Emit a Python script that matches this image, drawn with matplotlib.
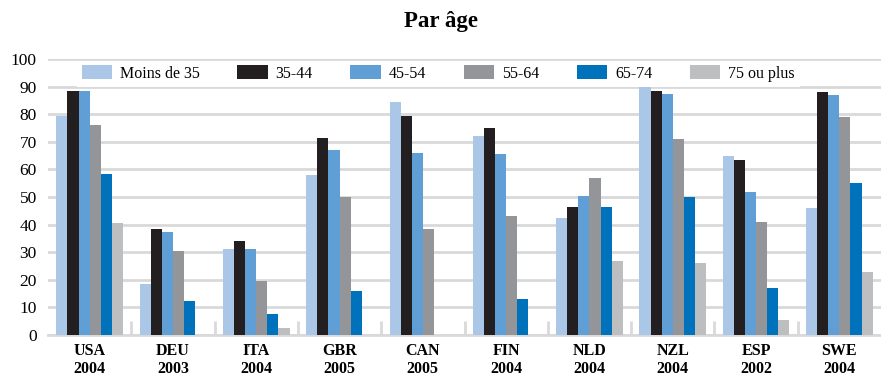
import numpy as np
import matplotlib.pyplot as plt

# Pays / année de l'enquête
pays = ['USA\n2004', 'DEU\n2003', 'ITA\n2004', 'GBR\n2005', 'CAN\n2005',
        'FIN\n2004', 'NLD\n2004', 'NZL\n2004', 'ESP\n2002', 'SWE\n2004']
tranches = ['Moins de 35', '35-44', '45-54', '55-64', '65-74', '75 ou plus']

moins_35 = [79.5, 18.5, 31, 58, 84.5, 72, 42.5, 90.5, 65, 46]
age_35_44 = [88.5, 38.5, 34, 71.5, 79.5, 75, 46.5, 88.5, 63.5, 88]
age_45_54 = [88.5, 37.5, 31, 67, 66, 65.5, 50.5, 87.5, 52, 87]
age_55_64 = [76, 30.5, 19.5, 50, 38.5, 43, 57, 71, 41, 79]
age_65_74 = [58.5, 12.5, 7.5, 16, 0, 13, 46.5, 50, 17, 55]
plus_75 = [40.5, 0, 2.5, 0, 0, 0, 27, 26, 5.5, 23]

series = [moins_35, age_35_44, age_45_54, age_55_64, age_65_74, plus_75]
couleurs = ['#abc7e8', '#231f20', '#5f9fd6', '#939598', '#0072bc', '#bcbec0']

plt.rcParams['font.family'] = ['Liberation Serif', 'DejaVu Serif']

fig = plt.figure(figsize=(8.81, 3.76), dpi=100)
ax = fig.add_axes([0.0545, 0.109, 0.9455, 0.734])

x = np.arange(len(pays))
largeur = 0.8 / len(series)
for i, (vals, coul, nom) in enumerate(zip(series, couleurs, tranches)):
    ax.bar(x - 0.4 + largeur * (i + 0.5), vals, largeur, color=coul,
           label=nom, zorder=3)

ax.set_xlim(-0.5, len(pays) - 0.5)
ax.set_ylim(0, 100)
ax.set_yticks(np.arange(0, 101, 10))
ax.grid(axis='y', color='#d9d9d9', linewidth=2, zorder=0)
ax.set_axisbelow(True)

# étiquettes des pays centrées, petits traits entre les groupes
ax.set_xticks(x)
ax.set_xticklabels(pays, fontweight='bold', fontsize=11.5, linespacing=1.15)
ax.tick_params(axis='x', length=0, pad=6)
ax.set_xticks(np.arange(0.5, len(pays) - 0.5, 1), minor=True)
ax.tick_params(axis='x', which='minor', direction='in', length=10,
               width=2, color='#d9d9d9')
ax.tick_params(axis='y', length=0, labelsize=12.5, pad=8)

for cote in ['left', 'right', 'top']:
    ax.spines[cote].set_visible(False)
ax.spines['bottom'].set_color('#d9d9d9')
ax.spines['bottom'].set_linewidth(2)

leg = ax.legend(ncol=6, loc='center left', bbox_to_anchor=(0.025, 0.947),
                frameon=True, fancybox=False, edgecolor='none',
                facecolor='white', framealpha=1, fontsize=11.5,
                handlelength=1.9, handleheight=0.95, handletextpad=0.5,
                columnspacing=2.35, borderpad=0.3)

fig.suptitle('Par âge', fontweight='bold', fontsize=16.5, y=0.97)

fig.savefig('out.png', dpi=100)
